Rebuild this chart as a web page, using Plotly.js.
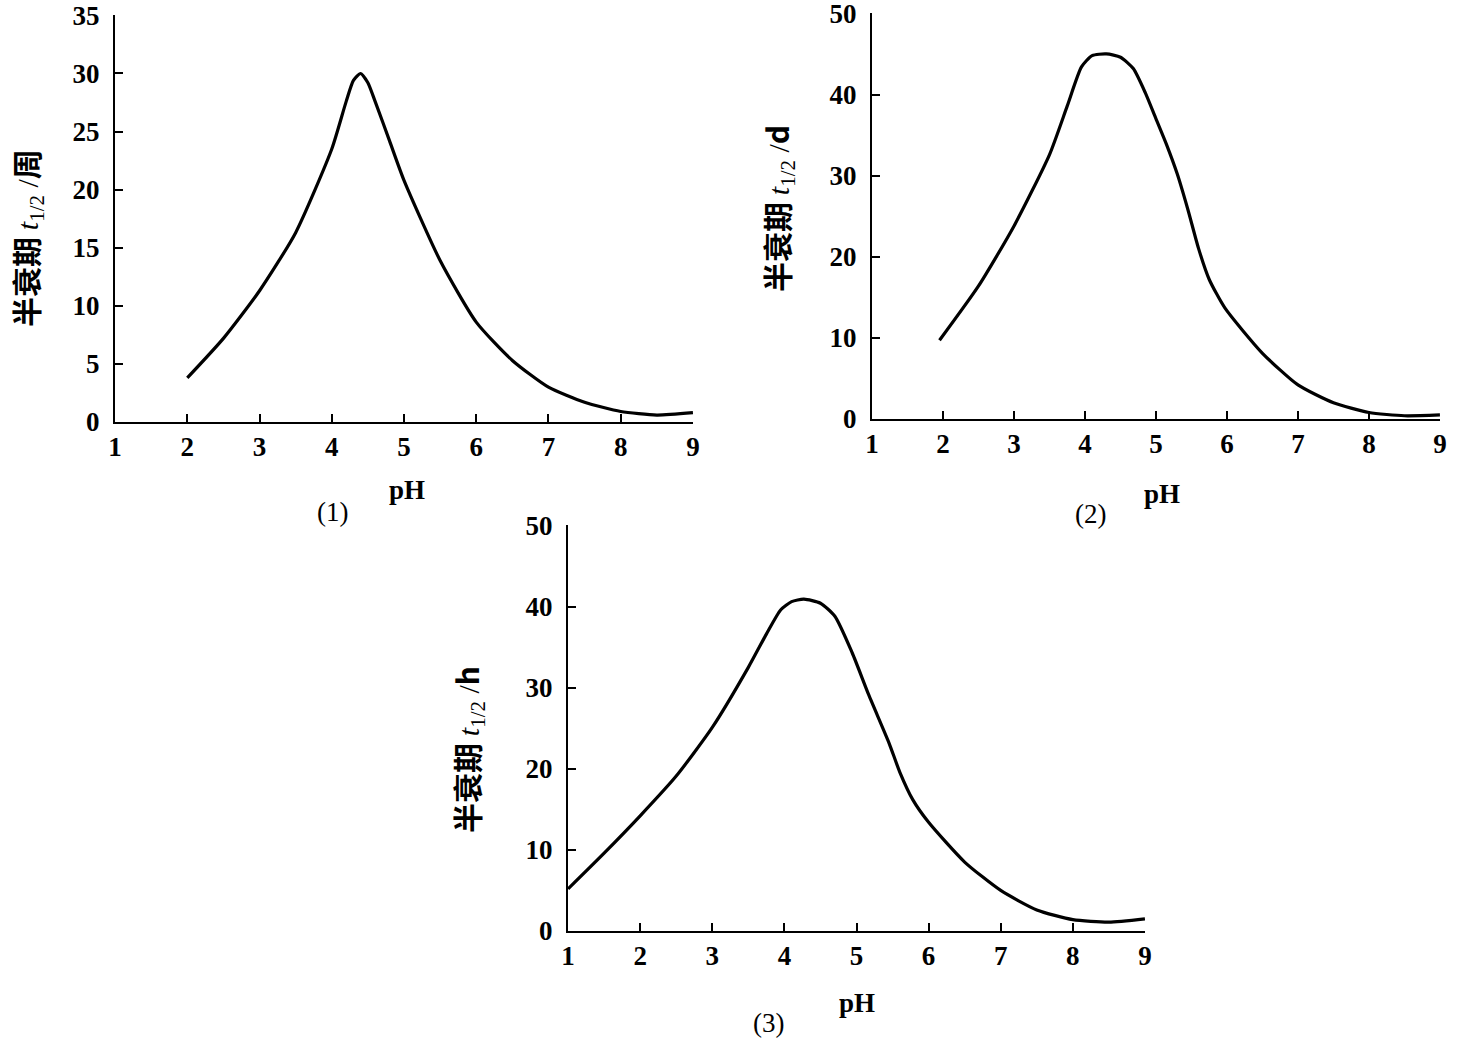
<!DOCTYPE html>
<html>
<head>
<meta charset="utf-8">
<script src="https://cdn.plot.ly/plotly-3.0.1.min.js"></script>
<style>
  body { margin: 0; background: #fff; }
  #plot { width: 1464px; height: 1042px; }
</style>
</head>
<body>
<div id="plot"></div>
<script>
// values
var ph1 = [2, 2.5, 3, 3.5, 4, 4.2, 4.3, 4.4, 4.5, 4.6, 4.8, 5, 5.5, 6, 6.5, 7, 7.5, 8, 8.5, 9];
var t1  = [3.8, 7.2, 11.3, 16.3, 23.5, 27.6, 29.4, 30.0, 29.2, 27.6, 24.2, 20.8, 13.9, 8.6, 5.3, 3.0, 1.7, 0.9, 0.6, 0.8];

var ph2 = [1.95, 2.5, 3, 3.5, 3.75, 3.95, 4.1, 4.3, 4.5, 4.68, 4.85, 5.0, 5.15, 5.3, 5.45, 5.6, 5.75, 5.97, 6.5, 7, 7.5, 8, 8.5, 9];
var t2  = [9.7, 16.4, 23.8, 32.6, 38.6, 43.4, 44.8, 45, 44.6, 43.2, 40.2, 37.0, 33.8, 30.2, 25.8, 21.0, 17.2, 13.7, 8.1, 4.2, 2.0, 0.8, 0.4, 0.5];

var ph3 = [1, 1.5, 2, 2.5, 3, 3.5, 3.75, 3.95, 4.1, 4.27, 4.5, 4.7, 4.94, 5.17, 5.45, 5.6, 5.78, 6, 6.5, 7, 7.5, 8, 8.5, 9];
var t3  = [5.2, 9.6, 14.2, 19.1, 25.1, 32.5, 36.6, 39.6, 40.6, 40.9, 40.4, 38.8, 34.3, 29.1, 23.2, 19.6, 16.2, 13.4, 8.5, 5.0, 2.6, 1.4, 1.1, 1.5];

var xTicks = [1, 2, 3, 4, 5, 6, 7, 8, 9];
var yTicks1 = [0, 5, 10, 15, 20, 25, 30, 35];
var yTicks2 = [0, 10, 20, 30, 40, 50];

var units = ['周', 'd', 'h'];
var panelNames = ['(1)', '(2)', '(3)'];

var W = 1464, H = 1042;
function px(x) { return x / W; }
function py(y) { return 1 - y / H; }

var serif = 'Liberation Serif, Times New Roman, serif';
var cjk = 'Noto Sans CJK SC, sans-serif';

function curve(x, y, xa, ya) {
  return {
    x: x, y: y, xaxis: xa, yaxis: ya,
    type: 'scatter', mode: 'lines',
    line: { color: '#000', width: 3.2, shape: 'spline', smoothing: 0.6 },
    hoverinfo: 'skip', showlegend: false
  };
}

function xAxis(dom, anchor) {
  return {
    domain: dom, anchor: anchor, range: [0.999, 9.001],
    tickvals: xTicks, ticks: 'inside', ticklen: 8, tickwidth: 2, tickcolor: '#000',
    showline: true, linecolor: '#000', linewidth: 2,
    showgrid: false, zeroline: false, ticklabelstandoff: 0, ticklabeloverflow: 'allow',
    tickfont: { family: serif, size: 27, color: '#000', weight: 'bold' }
  };
}

function yAxis(dom, anchor, top, vals) {
  return {
    domain: dom, anchor: anchor, range: [0, top * 1.001],
    tickvals: vals, ticks: 'inside', ticklen: 8, tickwidth: 2, tickcolor: '#000',
    showline: true, linecolor: '#000', linewidth: 2,
    showgrid: false, zeroline: false, ticklabelstandoff: 8, ticklabeloverflow: 'allow',
    tickfont: { family: serif, size: 27, color: '#000', weight: 'bold' }
  };
}

function ylabel(i) {
  var s = '<span style="font-family:' + serif + ';font-weight:normal">';
  return '半衰期 ' + s + '<i>t</i></span><sub>' + s + '1/2</span></sub>' + s + ' /</span>' + units[i];
}

function note(text, x, y, fam, size, angle, weight) {
  return {
    text: text, xref: 'paper', yref: 'paper', x: px(x), y: py(y),
    xanchor: 'center', yanchor: 'middle', showarrow: false, textangle: angle || 0,
    font: { family: fam, size: size, color: '#000', weight: weight || 'bold' }
  };
}

var data = [
  curve(ph1, t1, 'x', 'y'),
  curve(ph2, t2, 'x2', 'y2'),
  curve(ph3, t3, 'x3', 'y3')
];

var layout = {
  width: W, height: H,
  margin: { l: 0, r: 0, t: 0, b: 0 },
  paper_bgcolor: '#fff', plot_bgcolor: '#fff',
  showlegend: false,
  xaxis:  xAxis([px(115), px(693)], 'y'),
  yaxis:  yAxis([py(422), py(15)], 'x', 35, yTicks1),
  xaxis2: xAxis([px(872), px(1440)], 'y2'),
  yaxis2: yAxis([py(419), py(13)], 'x2', 50, yTicks2),
  xaxis3: xAxis([px(568), px(1145)], 'y3'),
  yaxis3: yAxis([py(931), py(525)], 'x3', 50, yTicks2),
  annotations: [
    note(ylabel(0), 26, 238, cjk, 30, -90),
    note('pH', 407, 490, serif, 27),
    note(panelNames[0], 332, 512, serif, 27, 0, 'normal'),
    note(ylabel(1), 777, 208, cjk, 30, -90),
    note('pH', 1162, 494, serif, 27),
    note(panelNames[1], 1090, 514, serif, 27, 0, 'normal'),
    note(ylabel(2), 467, 750, cjk, 30, -90),
    note('pH', 857, 1003, serif, 27),
    note(panelNames[2], 768, 1023, serif, 27, 0, 'normal')
  ]
};

Plotly.newPlot('plot', data, layout, { displayModeBar: false, staticPlot: true });
</script>
</body>
</html>
